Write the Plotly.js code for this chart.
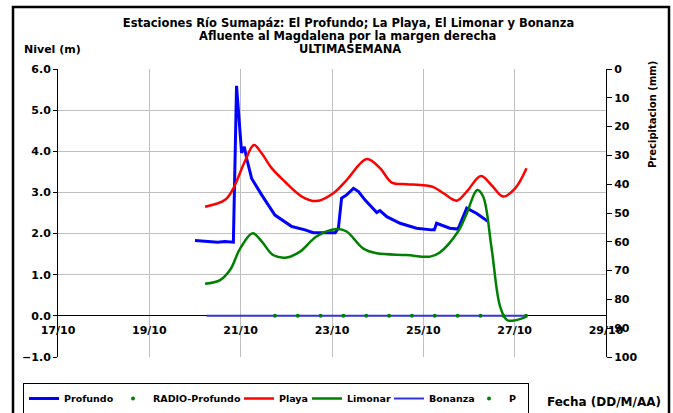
<!DOCTYPE html>
<html>
<head>
<meta charset="utf-8">
<script src="https://cdn.plot.ly/plotly-3.0.1.min.js"></script>
<style>html,body{margin:0;padding:0;background:#fff;}#chart{width:673px;height:413px;}</style>
</head>
<body>
<div id="chart"></div>
<script>
// ---- data ----
const titleLines = ["Estaciones Río Sumapáz: El Profundo; La Playa, El Limonar y Bonanza",
  "Afluente al Magdalena por la margen derecha", "ULTIMASEMANA"];
const xTickVals = ["2010-10-17","2010-10-19","2010-10-21","2010-10-23","2010-10-25","2010-10-27","2010-10-29"];
const xTickText = ["17/10","19/10","21/10","23/10","25/10","27/10","29/10"];

const profundoX = ["2010-10-20 00:00","2010-10-20 04:48","2010-10-20 08:24","2010-10-20 12:00","2010-10-20 15:36",
  "2010-10-20 20:10","2010-10-20 21:50","2010-10-21 00:30","2010-10-21 01:55","2010-10-21 03:07","2010-10-21 05:46",
  "2010-10-21 11:02","2010-10-21 18:00","2010-10-22 02:53","2010-10-22 09:50","2010-10-22 14:10","2010-10-23 01:41",
  "2010-10-23 03:22","2010-10-23 05:02","2010-10-23 07:41","2010-10-23 11:17","2010-10-23 13:55","2010-10-23 17:17",
  "2010-10-23 23:31","2010-10-24 01:12","2010-10-24 04:48","2010-10-24 11:46","2010-10-24 20:24","2010-10-25 04:19",
  "2010-10-25 05:46","2010-10-25 06:58","2010-10-25 13:55","2010-10-25 18:14","2010-10-25 22:48","2010-10-26 04:05",
  "2010-10-26 10:05"];
const profundoY = [1.83,1.81,1.80,1.79,1.81,1.79,5.59,3.96,4.11,3.83,3.34,2.94,2.45,2.17,2.09,2.02,2.02,
  2.13,2.86,2.94,3.10,3.02,2.82,2.51,2.56,2.41,2.25,2.13,2.09,2.09,2.25,2.13,2.11,2.62,2.49,2.29];

const playaX = ["2010-10-20 05:17","2010-10-20 15:50","2010-10-20 20:10","2010-10-21 02:10","2010-10-21 07:00",
  "2010-10-21 11:02","2010-10-21 16:19","2010-10-21 23:17","2010-10-22 08:10","2010-10-22 15:50","2010-10-23 00:43",
  "2010-10-23 07:41","2010-10-23 18:14","2010-10-24 01:12","2010-10-24 07:26","2010-10-24 15:07","2010-10-24 22:19",
  "2010-10-25 05:17","2010-10-25 10:34","2010-10-25 17:31","2010-10-25 22:48","2010-10-26 06:14","2010-10-26 11:46",
  "2010-10-26 18:00","2010-10-27 00:14","2010-10-27 06:14"];
const playaY = [2.65,2.82,3.10,3.75,4.15,3.95,3.59,3.26,2.90,2.79,2.98,3.30,3.81,3.59,3.24,3.20,3.18,
  3.13,2.98,2.80,3.02,3.40,3.18,2.90,3.10,3.59];

const limonarX = ["2010-10-20 05:17","2010-10-20 13:12","2010-10-20 18:29","2010-10-20 23:46","2010-10-21 06:14",
  "2010-10-21 11:02","2010-10-21 17:02","2010-10-22 00:14","2010-10-22 07:12","2010-10-22 15:50","2010-10-23 02:24",
  "2010-10-23 07:41","2010-10-23 16:19","2010-10-23 23:31","2010-10-24 15:07","2010-10-25 03:36","2010-10-25 08:38",
  "2010-10-25 18:14","2010-10-25 22:48","2010-10-26 04:19","2010-10-26 07:26","2010-10-26 11:46","2010-10-26 16:19",
  "2010-10-26 19:55","2010-10-27 00:14","2010-10-27 06:14"];
const limonarY = [0.78,0.87,1.12,1.64,2.01,1.81,1.48,1.42,1.56,1.93,2.11,2.05,1.64,1.52,1.48,1.44,1.54,
  2.05,2.49,3.06,2.90,1.68,0.23,-0.10,-0.11,-0.02];

const bonanzaX = ["2010-10-20 06:00","2010-10-27 06:30"];
const bonanzaY = [0,0];

const radioX = ["2010-10-20 00:00"];
const radioY = [null];

const pX = ["2010-10-21 18:00","2010-10-22 06:00","2010-10-22 18:00","2010-10-23 06:00","2010-10-23 18:00",
  "2010-10-24 06:00","2010-10-24 18:00","2010-10-25 06:00","2010-10-25 18:00","2010-10-26 06:00",
  "2010-10-26 18:00","2010-10-27 06:00"];
const pY = [0,0,0,0,0,0,0,0,0,0,0,0];

// ---- chart ----
const F = "DejaVu Sans";
const traces = [
  {name:"Profundo", x:profundoX, y:profundoY, type:"scatter", mode:"lines", line:{color:"#0000FF", width:3}, legendwidth:44},
  {name:"RADIO-Profundo", x:radioX, y:radioY, type:"scatter", mode:"markers", marker:{color:"#008000", size:4}, legendwidth:81},
  {name:"Playa", x:playaX, y:playaY, type:"scatter", mode:"lines", line:{color:"#FF0000", width:2.5, shape:"spline", smoothing:1}, legendwidth:23},
  {name:"Limonar", x:limonarX, y:limonarY, type:"scatter", mode:"lines", line:{color:"#008000", width:2.5, shape:"spline", smoothing:1}, legendwidth:37},
  {name:"Bonanza", x:bonanzaX, y:bonanzaY, type:"scatter", mode:"lines", line:{color:"#3333DD", width:2}, legendwidth:35},
  {name:"P", x:pX, y:pY, type:"scatter", mode:"markers", marker:{color:"#008000", size:4}, legendwidth:14},
  {x:pX, y:pY.map(v=>null), yaxis:"y2", type:"scatter", mode:"markers", showlegend:false, hoverinfo:"skip"}
];

const L=58, R=67, T=69, B=56, W=673, H=413;
const pw = W-L-R, ph = H-T-B;
const px = v => (v-L)/pw;
const py = v => (H-B-v)/ph;

const layout = {
  width:W, height:H,
  margin:{l:L, r:R, t:T, b:B, pad:0, autoexpand:false},
  paper_bgcolor:"#fff", plot_bgcolor:"#fff",
  font:{family:F, color:"#000", size:11, weight:"bold"},
  title:{text:titleLines[0], font:{family:F, size:11.5, weight:"bold", color:"#000"},
         x:348.5/W, xanchor:"center", y:1-23/H, yanchor:"middle", xref:"container", yref:"container", automargin:false},
  showlegend:true,
  legend:{orientation:"h", x:px(23), xanchor:"left", y:py(383), yanchor:"top",
          bordercolor:"#000", borderwidth:1, bgcolor:"#fff",
          font:{family:F, size:9.5, weight:"bold", color:"#000"}, traceorder:"normal"},
  xaxis:{type:"date", range:["2010-10-17","2010-10-29"], tickvals:xTickVals, ticktext:xTickText,
         anchor:"free", position:1/7, showline:false, zeroline:false,
         showgrid:true, gridcolor:"#C0C0C0", gridwidth:1, ticks:"", ticklabelstandoff:6,
         tickfont:{family:F, size:11, weight:"bold", color:"#000"}},
  yaxis:{range:[-1,6], dtick:1, tick0:0, tickformat:".1f", showgrid:true, gridcolor:"#C0C0C0", gridwidth:1,
         zeroline:true, zerolinecolor:"#000", zerolinewidth:1,
         showline:true, linecolor:"#000", linewidth:1, ticks:"outside", ticklen:4, tickcolor:"#000",
         tickfont:{family:F, size:11, weight:"bold", color:"#000"}},
  yaxis2:{overlaying:"y", side:"right", range:[100,0], dtick:10, tick0:0, showgrid:false, zeroline:false,
          showline:true, linecolor:"#000", linewidth:1, ticks:"outside", ticklen:5, tickcolor:"#000",
          tickfont:{family:F, size:11, weight:"bold", color:"#000"}},
  annotations:[
    {text:titleLines[1], xref:"paper", yref:"paper", x:px(347), y:py(36), xanchor:"center", yanchor:"middle", showarrow:false,
     font:{family:F, size:11.5, weight:"bold", color:"#000"}},
    {text:titleLines[2], xref:"paper", yref:"paper", x:px(350), y:py(49), xanchor:"center", yanchor:"middle", showarrow:false,
     font:{family:F, size:11.5, weight:"bold", color:"#000"}},
    {text:"Nivel (m)", xref:"paper", yref:"paper", x:px(22), y:py(49), xanchor:"left", yanchor:"middle", showarrow:false,
     font:{family:F, size:11, weight:"bold", color:"#000"}},
    {text:"Precipitacion (mm)", xref:"paper", yref:"paper", x:px(652), y:py(115), xanchor:"center", yanchor:"middle",
     textangle:-90, showarrow:false, font:{family:F, size:10, weight:"bold", color:"#000"}},
    {text:"Fecha (DD/M/AA)", xref:"paper", yref:"paper", x:px(603.5), y:py(402), xanchor:"center", yanchor:"middle", showarrow:false,
     font:{family:F, size:12, weight:"bold", color:"#000"}}
  ],
  shapes:[
    {type:"rect", xref:"paper", yref:"paper", x0:px(13), x1:px(669), y0:py(425), y1:py(7),
     line:{color:"#000", width:2.5}, fillcolor:"rgba(0,0,0,0)", layer:"below"}
  ]
};

Plotly.newPlot("chart", traces, layout, {staticPlot:true, displayModeBar:false});
</script>
</body>
</html>
